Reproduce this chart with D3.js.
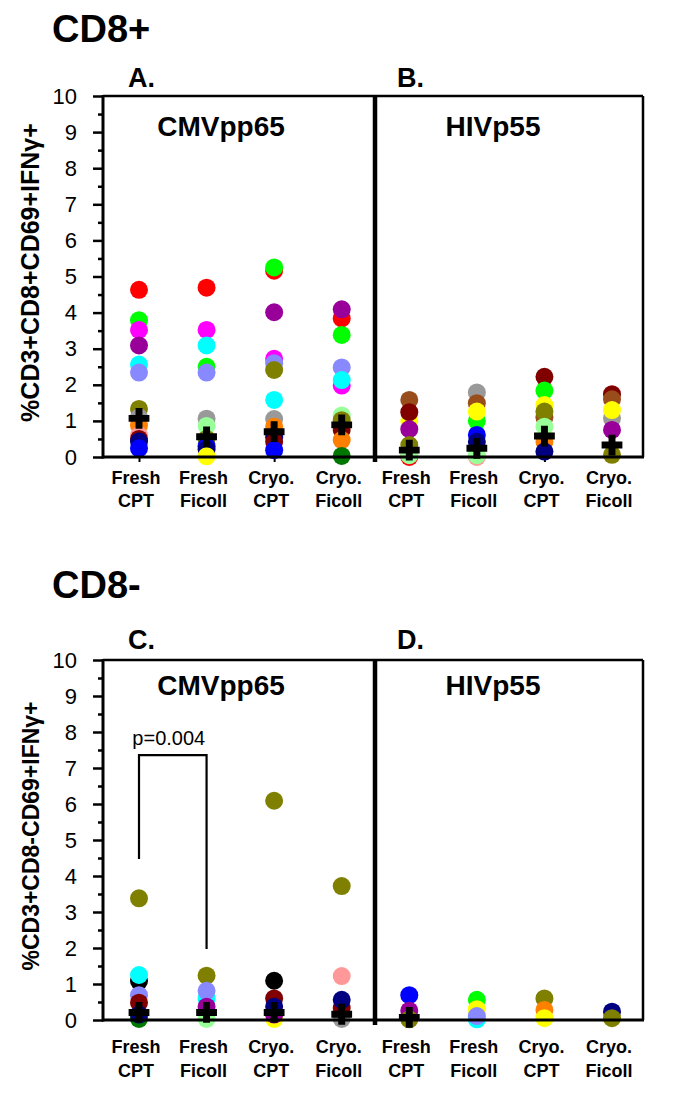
<!DOCTYPE html>
<html><head><meta charset="utf-8">
<script src="https://cdn.jsdelivr.net/npm/d3@7/dist/d3.min.js"></script>
<style>body{margin:0;background:#fff}svg{display:block}text{font-family:"Liberation Sans",Arial,sans-serif}</style>
</head><body>
<script>
// ---------- DATA ----------
const categories = ["Fresh\nCPT", "Fresh\nFicoll", "Cryo.\nCPT", "Cryo.\nFicoll"];
const antigens = ["CMVpp65", "HIVp55"];
const panelLetters = ["A.", "B.", "C.", "D."];
const groupTitles = ["CD8+", "CD8-"];
const yLabels = ["%CD3+CD8+CD69+IFN\u03b3+", "%CD3+CD8-CD69+IFN\u03b3+"];
const yTickValues = [0, 1, 2, 3, 4, 5, 6, 7, 8, 9, 10];
const yMinorTickValues = [0.5, 1.5, 2.5, 3.5, 4.5, 5.5, 6.5, 7.5, 8.5, 9.5];

const subjectColors = {
  red: "#ff0000", green: "#00ff00", magenta: "#ff00ff", purple: "#990099",
  cyan: "#00ffff", lavender: "#8888ff", olive: "#808000", gray: "#999999",
  lightgreen: "#99ff99", orange: "#ff8000", navy: "#000080", blue: "#0000ff",
  yellow: "#ffff00", maroon: "#800000", brown: "#994d1a", darkgreen: "#007700",
  salmon: "#ff9999", black: "#000000"
};

// [category index, subject, value]
const panelA = [
  [0,"red",4.63],[0,"green",3.79],[0,"magenta",3.52],[0,"purple",3.09],[0,"cyan",2.56],[0,"lavender",2.34],
  [0,"olive",1.33],[0,"gray",1.1],[0,"orange",0.88],[0,"salmon",0.6],[0,"maroon",0.5],[0,"navy",0.43],[0,"blue",0.24],
  [1,"red",4.69],[1,"magenta",3.52],[1,"cyan",3.09],[1,"green",2.5],[1,"lavender",2.34],[1,"gray",1.06],
  [1,"lightgreen",0.86],[1,"olive",0.5],[1,"blue",0.3],[1,"navy",0.21],[1,"yellow",0.02],
  [2,"red",5.16],[2,"green",5.25],[2,"purple",4.01],[2,"magenta",2.72],[2,"lavender",2.6],[2,"olive",2.41],
  [2,"cyan",1.58],[2,"gray",1.05],[2,"orange",0.84],[2,"navy",0.55],[2,"maroon",0.42],[2,"blue",0.19],
  [3,"red",3.84],[3,"purple",4.09],[3,"green",3.38],[3,"lavender",2.48],[3,"magenta",1.98],[3,"cyan",2.13],
  [3,"lightgreen",1.15],[3,"olive",1.02],[3,"maroon",0.75],[3,"orange",0.47],[3,"darkgreen",0.03]
];
const panelB = [
  [0,"brown",1.58],[0,"yellow",1.0],[0,"maroon",1.24],[0,"purple",0.77],[0,"olive",0.33],[0,"red",0.0],[0,"lightgreen",0.05],
  [1,"gray",1.79],[1,"brown",1.49],[1,"green",1.0],[1,"yellow",1.26],[1,"blue",0.61],[1,"navy",0.42],[1,"salmon",0.0],[1,"lightgreen",0.05],
  [2,"maroon",2.22],[2,"green",1.84],[2,"yellow",1.44],[2,"brown",1.1],[2,"olive",1.26],[2,"lightgreen",0.84],[2,"orange",0.42],[2,"navy",0.15],
  [3,"maroon",1.74],[3,"brown",1.6],[3,"gray",1.07],[3,"yellow",1.3],[3,"purple",0.75],[3,"olive",0.06]
];
const panelC = [
  [0,"olive",3.38],[0,"black",1.08],[0,"cyan",1.25],[0,"lavender",0.69],[0,"maroon",0.48],[0,"darkgreen",0.03],[0,"navy",0.15],
  [1,"olive",1.23],[1,"cyan",0.6],[1,"lavender",0.81],[1,"purple",0.37],[1,"lightgreen",0.03],
  [2,"olive",6.09],[2,"black",1.09],[2,"maroon",0.6],[2,"yellow",0.03],[2,"purple",0.15],[2,"navy",0.37],
  [3,"olive",3.72],[3,"salmon",1.22],[3,"gray",0.03],[3,"maroon",0.33],[3,"navy",0.56]
];
const panelD = [
  [0,"blue",0.69],[0,"purple",0.26],[0,"olive",0.02],
  [1,"green",0.56],[1,"yellow",0.3],[1,"cyan",0.02],[1,"lavender",0.11],
  [2,"olive",0.6],[2,"orange",0.28],[2,"yellow",0.05],
  [3,"navy",0.23],[3,"olive",0.05]
];
const meansA = [1.07, 0.56, 0.70, 0.89];
const meansB = [0.19, 0.24, 0.58, 0.33];
const meansC = [0.21, 0.21, 0.21, 0.16];
const meansD = [0.07, null, null, null];

// significance bracket (panel C): [catLeft, catRight, leftEnd, rightEnd, top]
const bracketC = [0, 1, 4.47, 1.97, 7.36];
const bracketLabel = "p=0.004";

// ---------- LAYOUT ----------
const W = 685, H = 1117;
const boxLeft = 103, boxRight = 643, divider = 375;
const groups = [
  {y0: 457, y1: 96, titleY: 42, letterY: 87, antigenY: 136, lab1: 484, lab2: 507, ylabFont: 25,
   panels: [panelA, panelB], means: [meansA, meansB]},
  {y0: 1020, y1: 660, titleY: 598, letterY: 649, antigenY: 695, lab1: 1053, lab2: 1077, ylabFont: 23,
   panels: [panelC, panelD], means: [meansC, meansD]}
];
const antigenX = [221, 493];

const svg = d3.select("body").append("svg").attr("width", W).attr("height", H);
svg.append("rect").attr("width", W).attr("height", H).attr("fill", "#fff");

const x = d3.scalePoint().domain(d3.range(8)).range([139, 612]);
const cross = d3.symbol().type(d3.symbolCross).size(240);

groups.forEach((g, gi) => {
  const y = d3.scaleLinear().domain([0, 10]).range([g.y0, g.y1]);
  const G = svg.append("g");

  // titles
  G.append("text").attr("x", 52).attr("y", g.titleY).attr("font-size", 38).attr("font-weight", "bold").text(groupTitles[gi]);
  [0, 1].forEach(p => {
    G.append("text").attr("x", p === 0 ? 128 : 397).attr("y", g.letterY).attr("font-size", 27).attr("font-weight", "bold")
      .text(panelLetters[gi * 2 + p]);
    G.append("text").attr("x", antigenX[p]).attr("y", g.antigenY).attr("text-anchor", "middle")
      .attr("font-size", 28).attr("font-weight", "bold").text(antigens[p]);
  });

  // y label
  G.append("text").attr("transform", `translate(39,${(g.y0 + g.y1) / 2 - 4}) rotate(-90)`).attr("text-anchor", "middle")
    .attr("font-size", g.ylabFont).attr("font-weight", "bold").text(yLabels[gi]);

  // y axis major
  const ax = G.append("g").attr("transform", `translate(${boxLeft},0)`)
    .call(d3.axisLeft(y).tickValues(yTickValues).tickSize(10).tickPadding(16).tickFormat(d3.format("d")));
  ax.select(".domain").remove();
  ax.selectAll(".tick line").attr("stroke", "#000").attr("stroke-width", 2.5);
  ax.selectAll(".tick text").attr("font-size", 22).attr("fill", "#000");
  const axm = G.append("g").attr("transform", `translate(${boxLeft},0)`)
    .call(d3.axisLeft(y).tickValues(yMinorTickValues).tickSize(5).tickFormat(""));
  axm.select(".domain").remove();
  axm.selectAll(".tick line").attr("stroke", "#000").attr("stroke-width", 2.5);

  // x axis ticks & labels
  const xa = G.append("g").attr("transform", `translate(0,${g.y0})`)
    .call(d3.axisBottom(x).tickSize(5).tickFormat(""));
  xa.select(".domain").remove();
  xa.selectAll(".tick line").attr("stroke", "#000").attr("stroke-width", 2);
  d3.range(8).forEach(i => {
    const parts = categories[i % 4].split("\n");
    G.append("text").attr("x", x(i) - 3).attr("y", g.lab1).attr("text-anchor", "middle").attr("font-size", 18).attr("font-weight", "bold").text(parts[0]);
    G.append("text").attr("x", x(i) - 3).attr("y", g.lab2).attr("text-anchor", "middle").attr("font-size", 18).attr("font-weight", "bold").text(parts[1]);
  });

  // points
  g.panels.forEach((pdata, p) => {
    G.append("g").selectAll("circle").data(pdata).join("circle")
      .attr("cx", d => x(p * 4 + d[0])).attr("cy", d => y(d[2])).attr("r", 9)
      .attr("fill", d => subjectColors[d[1]]);
    G.append("g").selectAll("path").data(g.means[p].map((m, i) => [i, m]).filter(d => d[1] != null)).join("path")
      .attr("d", cross).attr("transform", d => `translate(${x(p * 4 + d[0])},${y(d[1])})`).attr("fill", "#000");
  });

  // frame
  const line = (x1, y1, x2, y2, w) => G.append("line").attr("x1", x1).attr("y1", y1).attr("x2", x2).attr("y2", y2)
    .attr("stroke", "#000").attr("stroke-width", w);
  line(boxLeft, g.y1, boxRight, g.y1, 2.5);
  line(boxRight, g.y1, boxRight, g.y0, 2.5);
  line(boxLeft, g.y1 - 1, boxLeft, g.y0 + 1.5, 3);
  line(boxLeft - 1, g.y0, boxRight + 1, g.y0, 3);
  line(divider, g.y1, divider, g.y0 + 5, 4.5);

  // bracket
  if (gi === 1) {
    const [c1, c2, l, r, t] = bracketC;
    G.append("path").attr("fill", "none").attr("stroke", "#000").attr("stroke-width", 2.2)
      .attr("d", d3.line()([[x(c1), y(l)], [x(c1), y(t)], [x(c2), y(t)], [x(c2), y(r)]]));
    G.append("text").attr("x", (x(c1) + x(c2)) / 2 - 4).attr("y", y(t) - 10).attr("text-anchor", "middle")
      .attr("font-size", 20).text(bracketLabel);
  }
});
</script>
</body></html>
